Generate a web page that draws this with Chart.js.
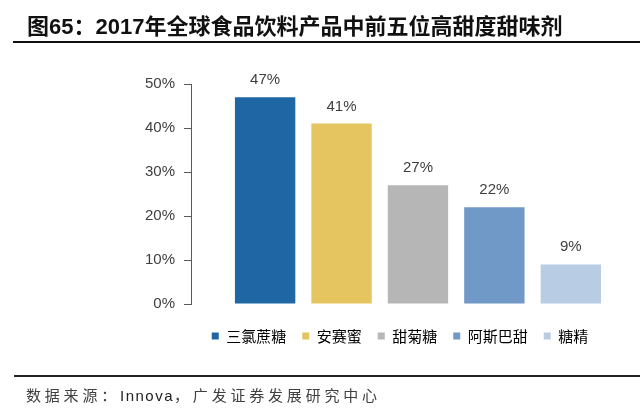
<!DOCTYPE html>
<html>
<head>
<meta charset="utf-8">
<script src="https://cdn.jsdelivr.net/npm/chart.js@4/dist/chart.umd.min.js"></script>
<style>
  html, body { margin: 0; padding: 0; background: #fff; }
  #wrap { position: relative; width: 640px; height: 415px; overflow: hidden; }
  #c { position: absolute; left: 0; top: 0; }
  #title { position: absolute; left: 27px; top: 15px; font: bold 22px "Liberation Sans", "Noto Sans CJK SC", sans-serif; color: #111; white-space: nowrap; line-height: 24px; }
  #tline { position: absolute; left: 13px; right: 0; top: 41px; height: 2px; background: #111; }
  #fline { position: absolute; left: 14px; right: 0; top: 375px; height: 2px; background: #222; }
  #foot { position: absolute; left: 26px; top: 385px; font: 15px "Noto Sans CJK SC", sans-serif; color: #404040; letter-spacing: 3.8px; white-space: nowrap; line-height: 20px; }
  #foot span { font-family: "Liberation Sans", sans-serif; letter-spacing: 1.5px; color: #222; }
</style>
</head>
<body>
<div id="wrap">
  <canvas id="c" width="640" height="415"></canvas>
  <div id="title">图65：2017年全球食品饮料产品中前五位高甜度甜味剂</div>
  <div id="tline"></div>
  <div id="fline"></div>
  <div id="foot">数据来源：<span>Innova</span>，广发证券发展研究中心</div>
</div>
<script>
const categories = ['三氯蔗糖', '安赛蜜', '甜菊糖', '阿斯巴甜', '糖精'];
const values = [47, 41, 27, 22, 9];
const barColors = ['#1f67a4', '#e5c55f', '#b6b6b6', '#7199c8', '#b8cce4'];
const yTicks = [0, 10, 20, 30, 40, 50];

const valueLabels = {
  id: 'valueLabels',
  afterDatasetsDraw(chart) {
    const ctx = chart.ctx;
    const meta = chart.getDatasetMeta(0);
    ctx.save();
    ctx.font = '15px "Liberation Sans", Arial, sans-serif';
    ctx.fillStyle = '#404040';
    ctx.textAlign = 'center';
    ctx.textBaseline = 'alphabetic';
    meta.data.forEach((bar, i) => {
      ctx.fillText(values[i] + '%', bar.x, bar.y - 13);
    });
    ctx.restore();
  }
};

new Chart(document.getElementById('c'), {
  type: 'bar',
  data: {
    datasets: [{
      data: values.map((v, i) => ({ x: i + 1, y: v })),
      backgroundColor: barColors,
      borderWidth: 0,
      barPercentage: 1,
      categoryPercentage: 0.79
    }]
  },
  options: {
    responsive: false,
    animation: false,
    devicePixelRatio: 1,
    layout: { padding: { left: 141, right: 31, top: 84, bottom: 61.5 } },
    scales: {
      x: {
        type: 'linear',
        offset: false,
        min: 0.03,
        max: 5.5,
        afterBuildTicks: (s) => { s.ticks = categories.map((_, i) => ({ value: i + 1 })); },
        ticks: { display: false },
        grid: { display: false },
        border: { display: false },
        afterFit: (s) => { s.height = 8.5; }
      },
      y: {
        min: 0,
        max: 50,
        afterBuildTicks: (s) => { s.ticks = yTicks.map(v => ({ value: v })); },
        ticks: {
          callback: (v) => v + '%',
          color: '#404040',
          font: { family: '"Liberation Sans", Arial, sans-serif', size: 15 },
          padding: 9
        },
        grid: { drawOnChartArea: false, drawTicks: true, tickLength: 7, color: '#595959', lineWidth: 1 },
        border: { display: true, color: '#595959', width: 1 },
        afterFit: (s) => { s.width = 50; }
      }
    },
    plugins: {
      legend: {
        position: 'bottom',
        fullSize: false,
        labels: {
          boxWidth: 7,
          boxHeight: 7,
          padding: 16,
          color: '#404040',
          font: { family: '"Noto Sans CJK SC", sans-serif', size: 15 },
          generateLabels: () => categories.map((c, i) => ({
            text: c,
            fillStyle: barColors[i],
            strokeStyle: barColors[i],
            lineWidth: 0,
            hidden: false,
            index: i
          }))
        },
        onClick: () => {}
      },
      tooltip: { enabled: false }
    }
  },
  plugins: [valueLabels]
});
</script>
</body>
</html>
